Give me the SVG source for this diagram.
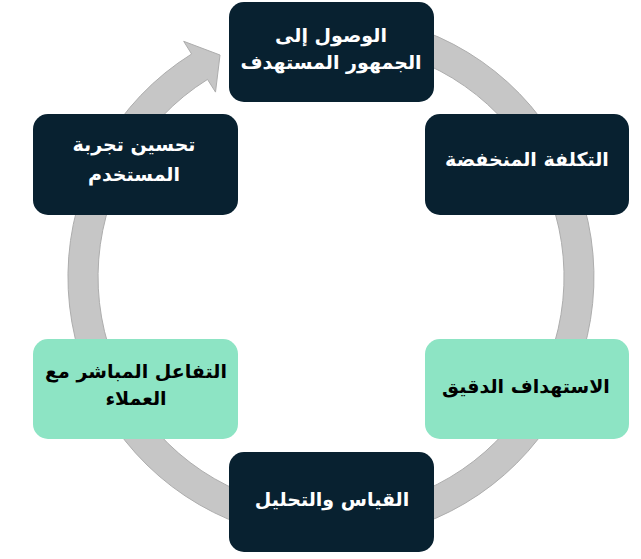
<svg xmlns="http://www.w3.org/2000/svg" width="641" height="559" viewBox="0 0 641 559">
<style>
.dark{fill:#082130}
.light{fill:#8de4c4}
text{font-family:"DejaVu Sans","Liberation Sans",sans-serif;font-weight:bold;font-size:19px;text-anchor:middle;direction:rtl}
.wt{fill:#ffffff}
.bt{fill:#000000}
</style>
<g id="connectors">
<path d="M262.9,23.0 A263,263 0 1 1 191.6,54.0 L183.7,41.3 L220,55 L215.5,92.1 L207.5,79.4 A233,233 0 1 0 270.7,51.9 Z" fill="#c6c6c6" stroke="#adadad" stroke-width="1"/>
</g>
<g id="node1">
<rect class="dark" x="229" y="2" width="205" height="100" rx="15"/>
<text class="wt" x="331" y="42">الوصول إلى</text>
<text class="wt" x="331" y="69">الجمهور المستهدف</text>
</g>
<g id="node2">
<rect class="dark" x="425" y="114" width="204" height="101" rx="15"/>
<text class="wt" x="527" y="166">التكلفة المنخفضة</text>
</g>
<g id="node3">
<rect class="light" x="425" y="339" width="204" height="100" rx="15"/>
<text class="bt" x="526" y="393">الاستهداف الدقيق</text>
</g>
<g id="node4">
<rect class="dark" x="229" y="452" width="205" height="100" rx="15"/>
<text class="wt" x="332" y="506">القياس والتحليل</text>
</g>
<g id="node5">
<rect class="light" x="33" y="339" width="205" height="100" rx="15"/>
<text class="bt" x="136" y="378">التفاعل المباشر مع</text>
<text class="bt" x="136" y="405">العملاء</text>
</g>
<g id="node6">
<rect class="dark" x="33" y="114" width="205" height="101" rx="15"/>
<text class="wt" x="134" y="151">تحسين تجربة</text>
<text class="wt" x="134" y="181">المستخدم</text>
</g>
</svg>
